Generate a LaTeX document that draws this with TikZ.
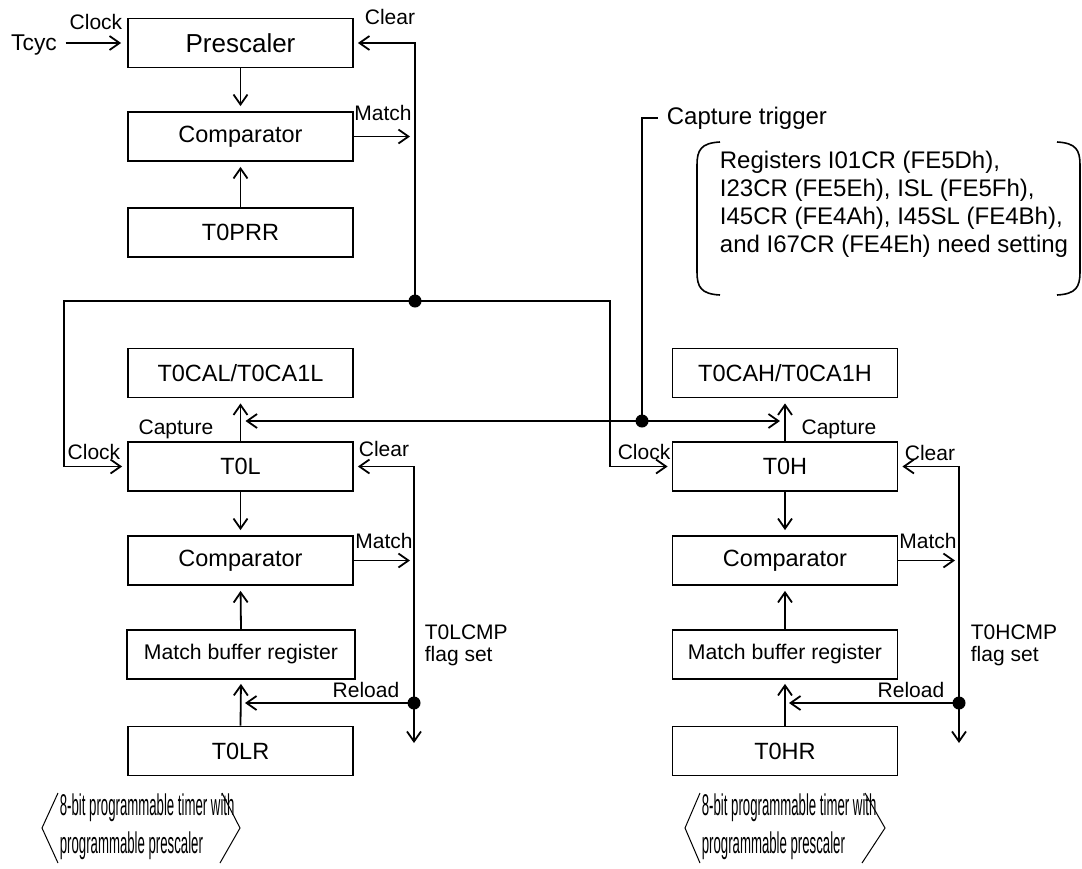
\documentclass[tikz,border=0pt]{standalone}
\usepackage{fontspec}
\setmainfont{Liberation Sans}
\usetikzlibrary{arrows.meta}
\begin{document}
\begin{tikzpicture}[x=0.5pt,y=-0.5pt,
  line width=0.9pt,
  arr/.style={-{Straight Barb[length=5pt,width=7pt]}},
  box/.style={draw, minimum width=112.5pt, minimum height=24.5pt, inner sep=0pt, font=\fontsize{11.75}{14}\selectfont},
  lbl/.style={inner sep=0pt, font=\fontsize{10.5}{12}\selectfont},
  big/.style={inner sep=0pt, font=\fontsize{12}{14}\selectfont},
  dot/.style={circle, fill, inner sep=0pt, minimum size=6.5pt},
  brk/.style={line width=0.8pt},
  thinl/.style={line width=0.5pt},
  cond/.style={inner sep=0pt, anchor=west, font=\fontsize{15}{17}\selectfont},
]
\useasboundingbox (0,0) rectangle (1082,868);

% ---------- prescaler part ----------
\node[box, font=\fontsize{13}{15}\selectfont] (pre) at (240.5,43) {Prescaler};
\node[box] (cmp0) at (240.5,136.5) {Comparator};
\node[box] (prr) at (240.5,232.5) {T0PRR};
\node[inner sep=0pt, font=\fontsize{11.4}{13}\selectfont] (tcyc) at (34,45) {Tcyc};
\draw[arr, shorten <=4pt, shorten >=3pt] (tcyc.east |- pre.west) -- (pre.west);
\node[lbl] at (96,22) {Clock};
\draw[arr, shorten >=2.5pt] (pre.south) -- (cmp0.north);
\draw[arr, shorten >=2.5pt] (prr.north) -- (cmp0.south);

\node[dot] (j1) at (415,301) {};
\draw[arr, shorten >=2.5pt] (cmp0.east) -- (cmp0.east -| j1);
\node[lbl] at (383,113) {Match};
\draw[arr, shorten >=2pt] (j1.center) |- (pre.east);
\node[lbl] at (390,17) {Clear};

% ---------- L column ----------
\node[box] (cal) at (240.5,373) {T0CAL/T0CA1L};
\node[box] (tl) at (240.5,466.5) {T0L};
\node[box] (cmpl) at (240.5,560.5) {Comparator};
\node[box, minimum width=114pt, font=\fontsize{10.6}{12}\selectfont] (mbl) at (241,654.5) {Match buffer register};
\node[box] (tlr) at (240.5,751) {T0LR};

% ---------- H column ----------
\node[box] (cah) at (785,373) {T0CAH/T0CA1H};
\node[box] (th) at (785,466.5) {T0H};
\node[box] (cmph) at (785,560.5) {Comparator};
\node[box, font=\fontsize{10.6}{12}\selectfont] (mbh) at (785,654.5) {Match buffer register};
\node[box] (thr) at (785,751) {T0HR};

% clock bus
\draw[arr, shorten >=2.5pt] (j1.center) -- (64,301) |- (tl.west);
\draw[arr, shorten >=2pt] (j1.center) -- (610,301) |- (th.west);
\node[lbl] at (94,452) {Clock};
\node[lbl] at (644,452) {Clock};

% capture
\draw[arr, shorten >=2.5pt] (tl.north) -- (cal.south);
\draw[arr, shorten >=2.5pt] (th.north) -- (cah.south);
\node[dot] (j2) at (642,421) {};
\draw[arr, shorten >=2.5pt] (j2.center) -- (tl.north |- j2);
\draw[arr, shorten >=2.5pt] (j2.center) -- (th.north |- j2);
\node[big, anchor=west] (ctr) at (666,118) {Capture trigger};
\draw (j2.center) |- ([xshift=-4pt]ctr.west);
\node[lbl] at (176,429) {Capture};
\node[lbl] at (839,429) {Capture};

% register note
\node[big, anchor=west, align=left] (note) at (719,204) {Registers I01CR (FE5Dh),\\I23CR (FE5Eh), ISL (FE5Fh),\\I45CR (FE4Ah), I45SL (FE4Bh),\\and I67CR (FE4Eh) need setting};
\draw[brk] (720,142) .. controls (701,143) and (697,150) .. (697,165) -- (697,272) .. controls (697,287) and (701,294) .. (720,295);
\draw[brk] (1057,142) .. controls (1076,143) and (1080,150) .. (1080,165) -- (1080,272) .. controls (1080,287) and (1076,294) .. (1057,295);

% L lower connectors
\node[dot] (jl) at (414,703) {};
\coordinate (el) at (414,743);
\draw[arr, shorten >=2pt] (jl.center) |- (tl.east);
\draw[arr] (jl.center) -- (el);
\draw[arr, shorten >=2pt] (cmpl.east) -- (cmpl.east -| jl);
\draw[arr, shorten >=2pt] (jl.center) -- (mbl.south |- jl);
\draw[arr, shorten >=2.5pt] (tl.south) -- (cmpl.north);
\draw[arr, shorten >=2.5pt] (mbl.north) -- (cmpl.south);
\draw[arr, shorten >=2pt] (tlr.north) -- (mbl.south);
\node[lbl] at (384,449) {Clear};
\node[lbl] at (384,541) {Match};
\node[lbl] at (366,690) {Reload};
\node[lbl, anchor=west, align=left, font=\fontsize{10.5}{11}\selectfont] at (424,645) {T0LCMP\\flag set};

% H lower connectors
\node[dot] (jh) at (959,703) {};
\coordinate (eh) at (959,743);
\draw[arr, shorten >=2pt] (jh.center) |- (th.east);
\draw[arr] (jh.center) -- (eh);
\draw[arr, shorten >=2pt] (cmph.east) -- (cmph.east -| jh);
\draw[arr, shorten >=2pt] (jh.center) -- (mbh.south |- jh);
\draw[arr, shorten >=2.5pt] (th.south) -- (cmph.north);
\draw[arr, shorten >=2.5pt] (mbh.north) -- (cmph.south);
\draw[arr, shorten >=2pt] (thr.north) -- (mbh.south);
\node[lbl] at (930,453) {Clear};
\node[lbl] at (928,541) {Match};
\node[lbl] at (911,690) {Reload};
\node[lbl, anchor=west, align=left, font=\fontsize{10.5}{11}\selectfont] at (970,645) {T0HCMP\\flag set};

% bottom captions
\draw[thinl] (58,793) -- (42,828) -- (58,863);
\draw[thinl] (222,793) -- (240,828) -- (220,863);
\node[cond] at (59,808) {\scalebox{0.44}[1]{8-bit programmable timer with}};
\node[cond] at (59,846) {\scalebox{0.44}[1]{programmable prescaler}};
\draw[thinl] (700,793) -- (685,828) -- (700,863);
\draw[thinl] (865,793) -- (885,828) -- (862,863);
\node[cond] at (701,808) {\scalebox{0.44}[1]{8-bit programmable timer with}};
\node[cond] at (701,846) {\scalebox{0.44}[1]{programmable prescaler}};
\end{tikzpicture}
\end{document}
